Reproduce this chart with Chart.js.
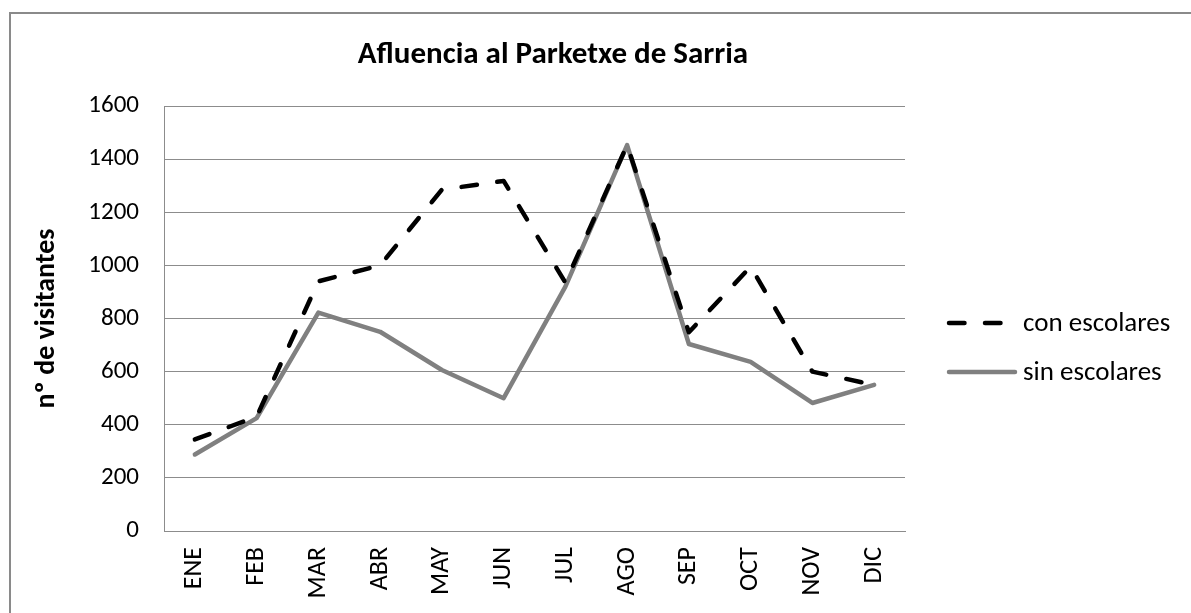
<!DOCTYPE html>
<html>
<head>
<meta charset="utf-8">
<script src="https://cdn.jsdelivr.net/npm/chart.js@4/dist/chart.umd.min.js"></script>
<style>
  html, body { margin: 0; padding: 0; background: #fff; }
  #wrap { position: relative; width: 1191px; height: 613px; overflow: hidden; }
  #frame { position: absolute; left: 9px; top: 12px; width: 1300px; height: 700px;
           border-top: 2px solid #8a8a8a; border-left: 2px solid #8a8a8a; }
  canvas { position: absolute; left: 0; top: 0; }
</style>
</head>
<body>
<div id="wrap">
  <div id="frame"></div>
  <canvas id="c" width="1191" height="613"></canvas>
</div>
<script>
const chartTitle = 'Afluencia al Parketxe de Sarria';
const yAxisTitle = 'nº de visitantes';
const categories = ['ENE','FEB','MAR','ABR','MAY','JUN','JUL','AGO','SEP','OCT','NOV','DIC'];
const conEscolares = [345, 430, 940, 1000, 1285, 1318, 935, 1453, 748, 995, 600, 550];
const sinEscolares = [288, 425, 822, 750, 606, 500, 920, 1453, 704, 637, 482, 550];
const seriesNames = ['con escolares', 'sin escolares'];
const yTicks = [0, 200, 400, 600, 800, 1000, 1200, 1400, 1600];

const FONT = 'Carlito, Lato, "Open Sans", sans-serif';
const GRID = '#8c8c8c';

const titlePlugin = {
  id: 'customTitle',
  afterDraw(chart) {
    const ctx = chart.ctx;
    ctx.save();
    ctx.font = 'bold 31px ' + FONT;
    ctx.fillStyle = '#000';
    ctx.textAlign = 'center';
    ctx.textBaseline = 'middle';
    ctx.fillText(chartTitle, 553, 55);
    ctx.restore();
  }
};

const legendPlugin = {
  id: 'customLegend',
  afterDraw(chart) {
    const ctx = chart.ctx;
    const a = chart.chartArea;
    const rows = [a.top + 217, a.top + 266];
    chart.data.datasets.forEach((ds, i) => {
      const y = rows[i];
      ctx.save();
      ctx.strokeStyle = ds.borderColor;
      ctx.lineWidth = ds.borderWidth;
      ctx.lineCap = ds.borderCapStyle;
      ctx.setLineDash(ds.borderDash || []);
      ctx.beginPath();
      ctx.moveTo(a.right + 44, y);
      ctx.lineTo(i === 0 ? a.right + 96 : a.right + 110, y);
      ctx.stroke();
      ctx.setLineDash([]);
      ctx.font = '27px ' + FONT;
      ctx.fillStyle = '#000';
      ctx.textAlign = 'left';
      ctx.textBaseline = 'middle';
      ctx.fillText(ds.label, a.right + 118, y + 1);
      ctx.restore();
    });
  }
};

new Chart(document.getElementById('c'), {
  type: 'line',
  data: {
    labels: categories,
    datasets: [
      {
        label: seriesNames[0],
        data: conEscolares,
        borderColor: '#000000',
        borderWidth: 4.5,
        borderDash: [15.5, 20.5],
        borderCapStyle: 'round',
        borderJoinStyle: 'round',
        pointRadius: 0,
        tension: 0,
        fill: false
      },
      {
        label: seriesNames[1],
        data: sinEscolares,
        borderColor: '#808080',
        borderWidth: 4.5,
        borderCapStyle: 'round',
        borderJoinStyle: 'round',
        pointRadius: 0,
        tension: 0,
        fill: false
      }
    ]
  },
  options: {
    responsive: false,
    animation: false,
    layout: { padding: { left: 25, right: 286, top: 106, bottom: 0 } },
    plugins: {
      legend: { display: false },
      title: { display: false },
      tooltip: { enabled: false }
    },
    scales: {
      x: {
        offset: true,
        grid: { display: false, drawTicks: false },
        border: { display: true, color: GRID, width: 1 },
        ticks: {
          minRotation: 90, maxRotation: 90, padding: 16,
          color: '#000', font: { family: FONT, size: 26 }
        },
        afterFit(s) { s.height = 82; }
      },
      y: {
        min: 0, max: 1600,
        afterBuildTicks(s) { s.ticks = yTicks.map(v => ({ value: v })); },
        grid: { color: GRID, lineWidth: 1, drawTicks: false },
        border: { display: true, color: GRID, width: 1 },
        ticks: {
          padding: 25, color: '#000', font: { family: FONT, size: 25 },
          callback: (v) => String(v)
        },
        title: {
          display: true, text: yAxisTitle, color: '#000',
          font: { family: FONT, size: 28, weight: 'bold' },
          padding: { top: 5, bottom: 0 }
        },
        afterFit(s) { s.width = 139; }
      }
    }
  },
  plugins: [titlePlugin, legendPlugin]
});
</script>
</body>
</html>
